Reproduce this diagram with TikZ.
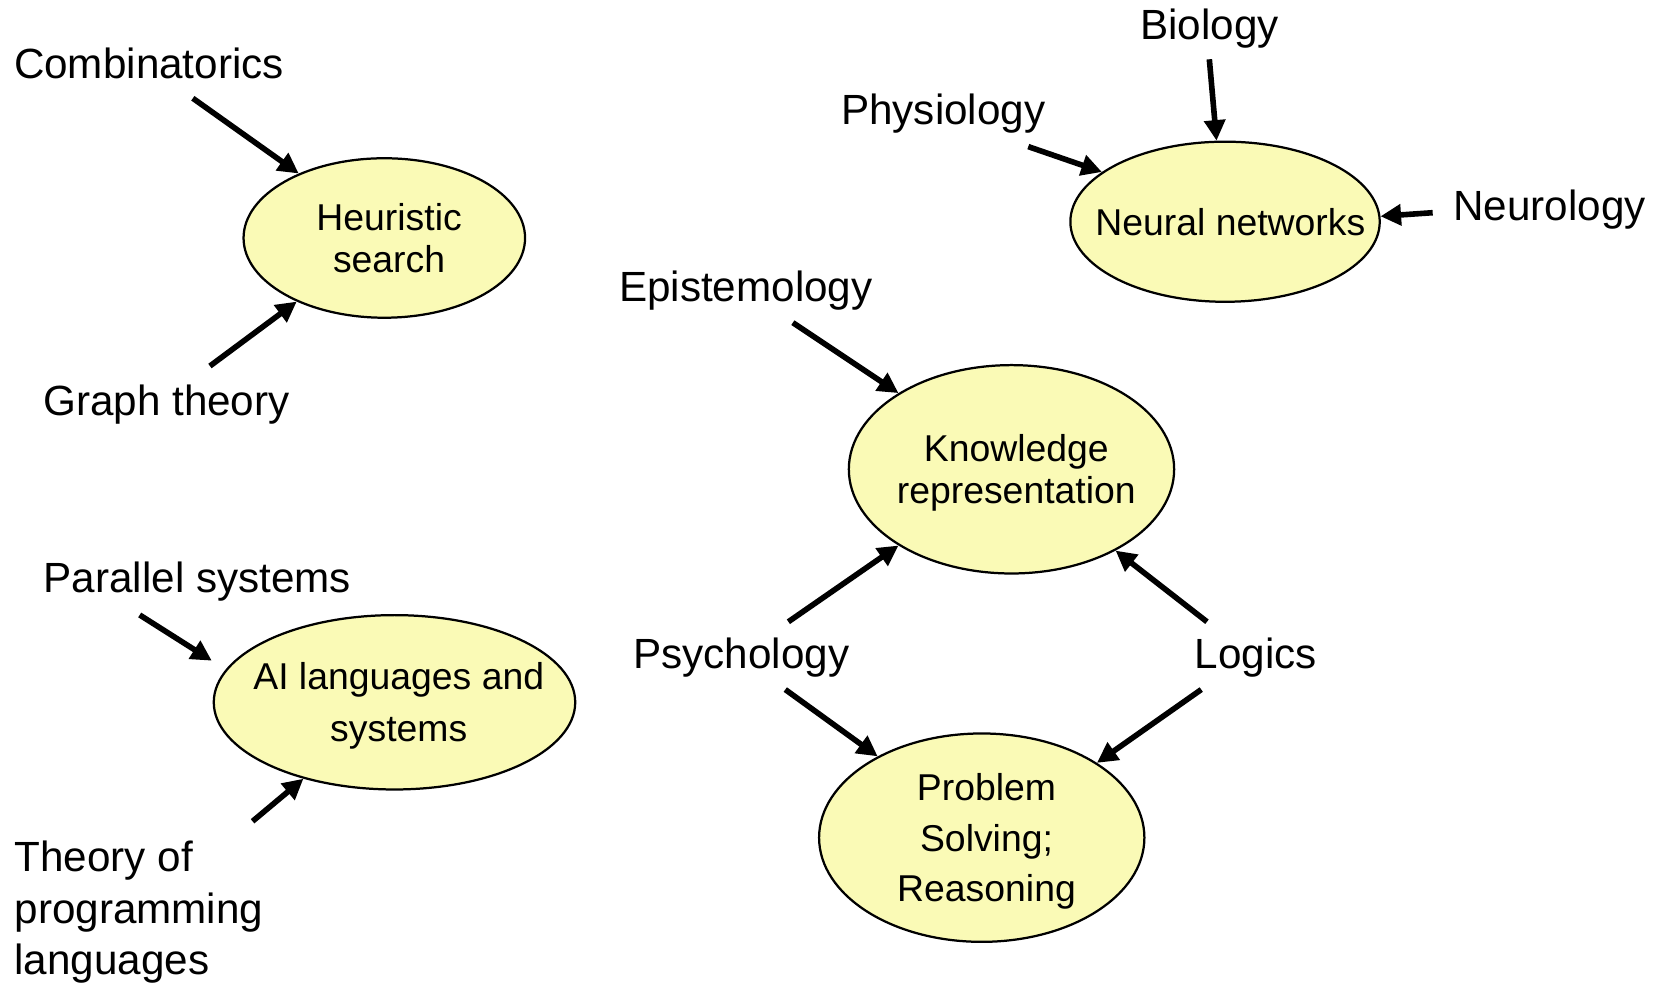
\documentclass[tikz,border=0pt]{standalone}
\usepackage{fontspec}
\setmainfont{Liberation Sans}
\usetikzlibrary{arrows.meta,shapes.geometric}
\definecolor{nodeyellow}{RGB}{250,250,182}
\tikzset{
  blob/.style={ellipse, draw=black, line width=0.6pt, fill=nodeyellow, inner sep=0pt},
  intext/.style={align=center, inner sep=0pt, font=\fontsize{10}{11.2}\selectfont},
  outtext/.style={anchor=base west, inner sep=0pt, align=left, font=\fontsize{11.3}{13.8}\selectfont},
  arr/.style={line width=1.5pt, -{Triangle[length=5.5pt,width=5.5pt]}}
}
\begin{document}
\begin{tikzpicture}[x=0.01cm,y=-0.01cm]
\useasboundingbox (0,0) rectangle (1568,928);

% ellipses
\node[blob, minimum width=2.648cm, minimum height=1.50cm] (hs) at (361.7,224) {};
\node[blob, minimum width=2.91cm, minimum height=1.506cm] (nn) at (1153,208.7) {};
\node[blob, minimum width=3.06cm, minimum height=1.96cm] (kr) at (952,441.7) {};
\node[blob, minimum width=3.06cm, minimum height=1.96cm] (ps) at (924,788.4) {};
\node[blob, minimum width=3.40cm, minimum height=1.64cm] (ai) at (371.3,661) {};

% texts inside ellipses
\node[intext, xshift=0.045cm] (hs-t) at (hs) {Heuristic\\search};
\node[intext, xshift=0.05cm] (nn-t) at (nn) {Neural networks};
\node[intext, xshift=0.045cm, yshift=-0.03cm] (kr-t) at (kr) {Knowledge\\representation};
\node[intext, xshift=0.045cm, yshift=-0.035cm, font=\fontsize{10}{13.6}\selectfont] (ps-t) at (ps) {Problem\\Solving;\\Reasoning};
\node[intext, xshift=0.04cm, yshift=-0.03cm, font=\fontsize{10}{13.9}\selectfont] (ai-t) at (ai) {AI languages and\\systems};

% outer labels
\node[outtext] (comb) at (12.5,73.7) {Combinatorics};
\node[outtext] (graph) at (40,390.6) {Graph theory};
\node[outtext] (bio) at (1072.5,37) {Biology};
\node[outtext] (phys) at (791,117.6) {Physiology};
\node[outtext] (neuro) at (1367,207.7) {Neurology};
\node[outtext] (epi) at (582,284.2) {Epistemology};
\node[outtext] (psy) at (595.5,629.3) {Psychology};
\node[outtext] (log) at (1124,629.3) {Logics};
\node[outtext] (par) at (40.5,557.8) {Parallel systems};
\node[outtext] (theo) at (13,917.5) {Theory of\\programming\\languages};

% arrow start points
\coordinate (c-comb) at (181.5,92.5);
\coordinate (c-graph) at (197.6,344.5);
\coordinate (c-bio) at (1138.2,55.8);
\coordinate (c-phys) at (967.8,138);
\coordinate (c-neuro) at (1348.4,200.2);
\coordinate (c-epi) at (746.2,303.7);
\coordinate (c-psyup) at (742,585.2);
\coordinate (c-logup) at (1136,585.2);
\coordinate (c-psydn) at (739.1,649);
\coordinate (c-logdn) at (1130.6,649);
\coordinate (c-par) at (131.5,578.8);
\coordinate (c-theo) at (237.7,773);

% arrows
\draw[arr] (c-comb) -- (hs.143.9);
\draw[arr] (c-graph) -- (hs.216);
\draw[arr] (c-bio) -- (nn.96.25);
\draw[arr] (c-phys) -- (nn.158.8);
\draw[arr] (c-neuro) -- (nn.2.4);
\draw[arr] (c-epi) -- (kr.146);
\draw[arr] (c-psyup) -- (kr.214.4);
\draw[arr] (c-logup) -- (kr.322.4);
\draw[arr] (c-psydn) -- (ps.142.9);
\draw[arr] (c-logdn) -- (ps.33.8);
\draw[arr, shorten >=4.4pt] (c-par) -- (ai.169.3);
\draw[arr] (c-theo) -- (ai.220.1);
\end{tikzpicture}
\end{document}
